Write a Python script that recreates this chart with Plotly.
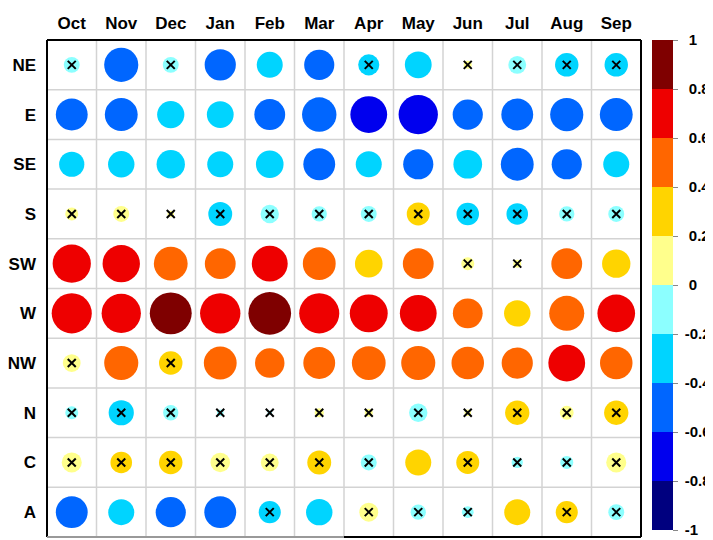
import plotly.graph_objects as go
import numpy as np

months = ["Oct", "Nov", "Dec", "Jan", "Feb", "Mar", "Apr", "May", "Jun", "Jul", "Aug", "Sep"]
regions = ["NE", "E", "SE", "S", "SW", "W", "NW", "N", "C", "A"]

# correlation values per region (Oct..Sep)
r_NE = [-0.12, -0.55, -0.12, -0.46, -0.32, -0.43, -0.21, -0.34, 0.03, -0.15, -0.26, -0.26]
r_E = [-0.48, -0.51, -0.35, -0.34, -0.45, -0.56, -0.64, -0.73, -0.43, -0.48, -0.52, -0.51]
r_SE = [-0.30, -0.33, -0.38, -0.32, -0.36, -0.48, -0.32, -0.43, -0.39, -0.51, -0.43, -0.32]
r_S = [0.08, 0.12, 0.02, -0.27, -0.16, -0.11, -0.12, 0.25, -0.24, -0.22, -0.11, -0.12]
r_SW = [0.69, 0.66, 0.54, 0.45, 0.61, 0.51, 0.36, 0.45, 0.08, 0.03, 0.45, 0.38]
r_W = [0.76, 0.73, 0.83, 0.77, 0.86, 0.76, 0.68, 0.64, 0.42, 0.33, 0.58, 0.67]
r_NW = [0.15, 0.55, 0.26, 0.51, 0.41, 0.48, 0.54, 0.55, 0.50, 0.46, 0.64, 0.50]
r_N = [-0.08, -0.30, -0.11, -0.02, -0.01, 0.04, 0.03, -0.16, 0.02, 0.28, 0.09, 0.28]
r_C = [0.19, 0.22, 0.26, 0.18, 0.15, 0.27, -0.12, 0.32, 0.25, -0.06, -0.08, 0.19]
r_A = [-0.48, -0.32, -0.43, -0.48, -0.23, -0.33, 0.17, -0.11, -0.065, 0.32, 0.23, -0.12]

# 1 = not significant (marked with a cross)
ns_NE = [1, 0, 1, 0, 0, 0, 1, 0, 1, 1, 1, 1]
ns_E = [0, 0, 0, 0, 0, 0, 0, 0, 0, 0, 0, 0]
ns_SE = [0, 0, 0, 0, 0, 0, 0, 0, 0, 0, 0, 0]
ns_S = [1, 1, 1, 1, 1, 1, 1, 1, 1, 1, 1, 1]
ns_SW = [0, 0, 0, 0, 0, 0, 0, 0, 1, 1, 0, 0]
ns_W = [0, 0, 0, 0, 0, 0, 0, 0, 0, 0, 0, 0]
ns_NW = [1, 0, 1, 0, 0, 0, 0, 0, 0, 0, 0, 0]
ns_N = [1, 1, 1, 1, 1, 1, 1, 1, 1, 1, 1, 1]
ns_C = [1, 1, 1, 1, 1, 1, 1, 0, 1, 1, 1, 1]
ns_A = [0, 0, 0, 0, 1, 0, 1, 1, 1, 0, 1, 1]

cbar_ticks = [-1, -0.8, -0.6, -0.4, -0.2, 0, 0.2, 0.4, 0.6, 0.8, 1]
bin_colors = ["#00007F", "#0000EE", "#0066FF", "#00D4FF", "#8CFFFF",
              "#FFFF8C", "#FFD400", "#FF6600", "#EE0000", "#7F0000"]

R = np.array([r_NE, r_E, r_SE, r_S, r_SW, r_W, r_NW, r_N, r_C, r_A])
NS = np.array([ns_NE, ns_E, ns_SE, ns_S, ns_SW, ns_W, ns_NW, ns_N, ns_C, ns_A])

# stepped colorscale
cs = []
n = len(bin_colors)
for i, c in enumerate(bin_colors):
    cs.append([i / n, c])
    cs.append([(i + 1) / n, c])

xs, ys, vals = [], [], []
cx, cy = [], []
for j in range(len(regions)):
    for i in range(len(months)):
        xs.append(i)
        ys.append(j)
        vals.append(R[j, i])
        if NS[j, i]:
            cx.append(i)
            cy.append(j)
vals = np.array(vals)
DMAX = 46
sizes = DMAX * np.sqrt(np.abs(vals))

NB = "\u00a0"
cbar_text = [(NB if t < 0 else NB * 2) + f"{t:g}" for t in cbar_ticks]

fig = go.Figure()
fig.add_trace(go.Scatter(
    x=xs, y=ys, mode="markers",
    marker=dict(
        size=sizes, color=vals, colorscale=cs, cmin=-1, cmax=1, opacity=1,
        line=dict(width=0),
        colorbar=dict(
            tickvals=cbar_ticks, ticktext=cbar_text,
            thickness=21, lenmode="pixels", len=490,
            x=1.0185, xanchor="left", xpad=0,
            y=1, yanchor="top", ypad=0,
            outlinewidth=0,
            ticks="outside", ticklen=5, tickcolor="#888888", tickwidth=1,
            tickfont=dict(family="Liberation Sans", size=15, color="black", weight="bold"),
        ),
    ),
    opacity=1,
    showlegend=False, hoverinfo="skip",
))
fig.add_trace(go.Scatter(
    x=cx, y=cy, mode="markers",
    marker=dict(symbol="x-thin", size=8, color="black", opacity=1, line=dict(width=2, color="black")),
    showlegend=False, hoverinfo="skip",
))

shapes = []
grid_col = "#D3D3D3"
for i in range(1, len(months)):
    shapes.append(dict(type="line", xref="x", yref="paper", x0=i - 0.5, x1=i - 0.5, y0=0, y1=1,
                       line=dict(color=grid_col, width=1.5), layer="below"))
for j in range(1, len(regions)):
    shapes.append(dict(type="line", xref="paper", yref="y", x0=0, x1=1, y0=j - 0.5, y1=j - 0.5,
                       line=dict(color=grid_col, width=1.5), layer="below"))
# frame
frame = dict(color="black", width=2)
shapes.append(dict(type="line", xref="paper", yref="paper", x0=0, x1=0, y0=0, y1=1, line=frame))
shapes.append(dict(type="line", xref="paper", yref="paper", x0=1, x1=1, y0=0, y1=1, line=frame))
shapes.append(dict(type="line", xref="paper", yref="paper", x0=0, x1=1, y0=1, y1=1, line=frame))
shapes.append(dict(type="line", xref="paper", yref="paper", x0=0, x1=0.5, y0=0, y1=0,
                   line=dict(color="#999999", width=2)))
shapes.append(dict(type="line", xref="paper", yref="paper", x0=0.5, x1=1, y0=0, y1=0, line=frame))

lab_font = dict(family="Liberation Sans", size=17, color="black", weight="bold")
# page body adds an 8px margin, so the figure is 8px smaller on each axis
fig.update_layout(
    width=705, height=532,
    margin=dict(l=39, r=72, t=32, b=3, autoexpand=False),
    paper_bgcolor="white", plot_bgcolor="white",
    shapes=shapes,
    xaxis=dict(range=[-0.5, len(months) - 0.5], tickvals=list(range(len(months))), ticktext=months,
               side="top", showgrid=False, zeroline=False, showline=False, ticks="",
               tickfont=lab_font, ticklabelstandoff=7, automargin=False, fixedrange=True),
    yaxis=dict(range=[len(regions) - 0.5, -0.5], tickvals=list(range(len(regions))), ticktext=regions,
               showgrid=False, zeroline=False, showline=False, ticks="",
               tickfont=lab_font, ticklabelstandoff=10, automargin=False, fixedrange=True),
)

fig.write_html("out.html")
